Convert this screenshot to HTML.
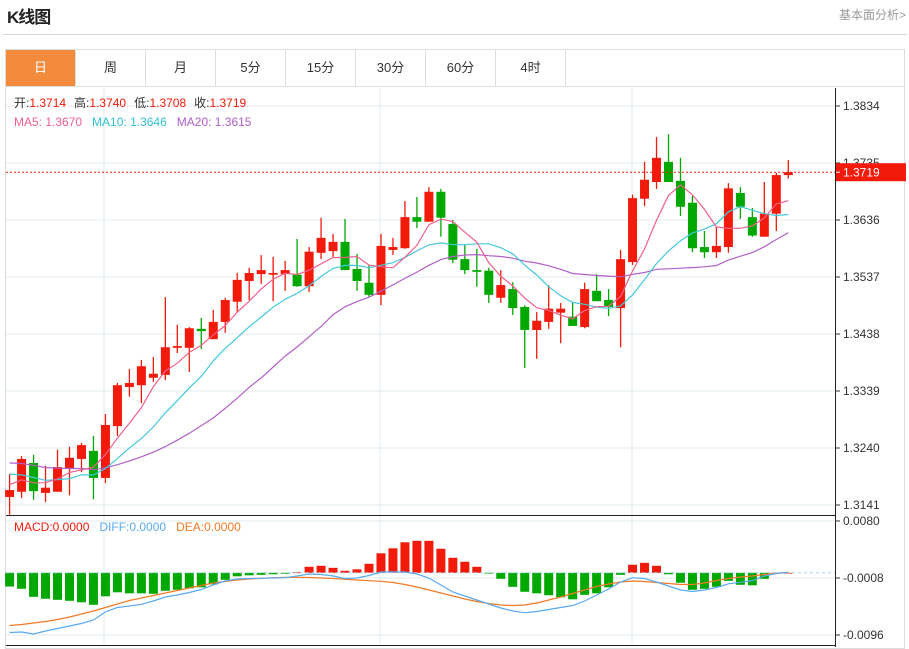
<!DOCTYPE html>
<html><head><meta charset="utf-8">
<style>
html,body{margin:0;padding:0;background:#fff;}
body{width:909px;height:647px;overflow:hidden;position:relative;font-family:"Liberation Sans","Noto Sans CJK SC",sans-serif;}
#title{position:absolute;left:7px;top:3px;font-size:17px;font-weight:bold;color:#222;letter-spacing:-1px;}
#more{position:absolute;right:3px;top:6px;font-size:12px;color:#999;}
#hr{position:absolute;left:3px;top:34px;width:904px;height:1px;background:#d6d6d6;}
#frame{position:absolute;left:5px;top:49px;width:900px;height:600px;border:1px solid #ddd;box-sizing:border-box;}
#tabs{position:absolute;left:6px;top:50px;height:36px;width:899px;border-bottom:1px solid #ddd;display:flex;}
.tab{width:69px;height:36px;border-right:1px solid #ddd;line-height:36px;text-align:center;font-size:13px;color:#333;}
.tab.on{background:#f28c3c;color:#fff;}
svg{position:absolute;left:0;top:0;}
</style></head>
<body>
<div id="title">K线图</div>
<div id="more">基本面分析&gt;</div>
<div id="hr"></div>
<div id="frame"></div>
<div id="tabs">
<div class="tab on">日</div>
<div class="tab">周</div>
<div class="tab">月</div>
<div class="tab">5分</div>
<div class="tab">15分</div>
<div class="tab">30分</div>
<div class="tab">60分</div>
<div class="tab">4时</div>
</div>
<svg id="chart" width="909" height="647" font-family="Liberation Sans, Noto Sans CJK SC, sans-serif"></svg>
<script>
const priceTicks=["1.3834","1.3735","1.3636","1.3537","1.3438","1.3339","1.3240","1.3141"];
const macdTicks=["0.0080","-0.0008","-0.0096"];
const maLegend=["1.3670","1.3646","1.3615"];
const opens=[1.3155,1.3164,1.3214,1.3162,1.3164,1.3205,1.3221,1.3235,1.3188,1.3278,1.3346,1.3349,1.3362,1.3367,1.3414,1.3414,1.3447,1.3429,1.3459,1.3494,1.3530,1.3542,1.3541,1.3542,1.3541,1.3521,1.3579,1.3582,1.3598,1.3551,1.3527,1.3506,1.3584,1.3587,1.3641,1.3633,1.3685,1.3629,1.3568,1.3549,1.3548,1.3501,1.3516,1.3485,1.3445,1.3459,1.3475,1.3468,1.3450,1.3513,1.3497,1.3483,1.3563,1.3673,1.3702,1.3737,1.3704,1.3666,1.3589,1.3580,1.3589,1.3683,1.3641,1.3607,1.3647,1.3714];
const closes=[1.3167,1.3221,1.3165,1.3171,1.3207,1.3223,1.3245,1.3188,1.3280,1.3349,1.3353,1.3382,1.3369,1.3415,1.3417,1.3448,1.3443,1.3459,1.3497,1.3532,1.3544,1.3549,1.3544,1.3549,1.3521,1.3581,1.3605,1.3598,1.3549,1.3530,1.3506,1.3591,1.3589,1.3641,1.3633,1.3685,1.3640,1.3567,1.3549,1.3546,1.3506,1.3523,1.3483,1.3445,1.3461,1.3482,1.3482,1.3452,1.3516,1.3495,1.3485,1.3568,1.3674,1.3706,1.3744,1.3702,1.3659,1.3587,1.3580,1.3591,1.3691,1.3659,1.3609,1.3647,1.3714,1.3719];
const highs=[1.3195,1.3226,1.3228,1.3209,1.3237,1.3242,1.3249,1.3261,1.3299,1.3353,1.3377,1.3393,1.3398,1.3502,1.3454,1.3450,1.3466,1.3480,1.3501,1.3544,1.3553,1.3575,1.3572,1.3565,1.3603,1.3589,1.3640,1.3612,1.3638,1.3577,1.3558,1.3612,1.3605,1.3669,1.3676,1.3693,1.3690,1.3636,1.3593,1.3586,1.3553,1.3549,1.3528,1.3488,1.3476,1.3523,1.3492,1.3492,1.3527,1.3542,1.3516,1.3584,1.3680,1.3737,1.3780,1.3785,1.3744,1.3678,1.3617,1.3624,1.3700,1.3693,1.3657,1.3702,1.3718,1.3740];
const lows=[1.3124,1.3153,1.3150,1.3146,1.3164,1.3158,1.3198,1.3151,1.3179,1.3261,1.3329,1.3318,1.3355,1.3358,1.3405,1.3372,1.3412,1.3429,1.3440,1.3476,1.3497,1.3525,1.3495,1.3513,1.3520,1.3511,1.3568,1.3572,1.3549,1.3513,1.3502,1.3488,1.3575,1.3586,1.3622,1.3633,1.3607,1.3561,1.3542,1.3520,1.3492,1.3492,1.3471,1.3379,1.3395,1.3447,1.3422,1.3452,1.3448,1.3495,1.3469,1.3415,1.3558,1.3660,1.3690,1.3702,1.3643,1.3580,1.3570,1.3570,1.3579,1.3638,1.3607,1.3607,1.3617,1.3708];
const priorCloses=[1.3240,1.3230,1.3250,1.3225,1.3235,1.3245,1.3230,1.3215,1.3240,1.3225,1.3235,1.3210,1.3220,1.3195,1.3205,1.3180,1.3190,1.3170,1.3175];
/* MACD values in units of 1e-4 */
const histE4=[-21.2,-24.7,-37.1,-40.1,-41.7,-43.2,-45.5,-49.4,-36.3,-30.1,-31.7,-31.7,-32.4,-27.8,-26.2,-23.9,-22.4,-17.8,-10.8,-5.4,-3.9,-3.1,-2.3,-1.5,0.8,9.3,10.8,7.7,3.1,5.4,13.9,30.1,37.8,47.1,49.4,49.4,37.1,23.2,17.0,9.3,-0.8,-9.3,-21.6,-29.3,-31.7,-34.7,-37.8,-40.9,-34.0,-31.7,-22.4,-3.1,12.4,15.4,10.8,-2.3,-15.4,-26.2,-24.7,-21.6,-12.4,-18.5,-19.3,-9.3,0,0];
const diffE4=[-92.2,-91.4,-94.5,-89.9,-86.0,-82.1,-78.3,-72.9,-60.5,-53.6,-51.3,-48.6,-43.5,-37.4,-34.3,-30.4,-25.8,-18.8,-12.7,-9.6,-8.8,-8.5,-8.0,-7.6,-4.9,-1.9,-2.6,-4.9,-8.8,-8.0,-4.2,1.2,1.5,1.2,-1.9,-8.0,-18.8,-29.6,-35.8,-42.0,-48.2,-54.3,-59.0,-61.6,-59.8,-56.7,-53.6,-50.5,-43.5,-34.3,-25.0,-14.2,-7.6,-8.8,-14.2,-20.4,-26.6,-28.9,-26.6,-22.7,-17.0,-14.7,-11.9,-4.9,-1.1,0.8];
const deaE4=[-81.4,-79.8,-77.5,-75.2,-72.1,-68.2,-63.6,-59.0,-53.6,-48.2,-42.8,-38.9,-35.0,-31.2,-27.3,-23.5,-19.6,-15.7,-13.4,-11.1,-9.6,-8.5,-7.6,-6.9,-6.9,-7.3,-8.0,-8.8,-10.0,-11.1,-12.2,-13.1,-15.0,-18.1,-21.9,-26.6,-31.2,-35.8,-40.5,-44.3,-47.4,-49.7,-50.5,-49.7,-46.6,-42.0,-37.4,-32.0,-26.6,-21.2,-17.3,-14.2,-12.7,-13.4,-15.0,-16.5,-18.1,-18.1,-15.7,-11.9,-8.8,-6.5,-4.9,-2.6,-0.6,0.8];

const NS="http://www.w3.org/2000/svg";
const svg=document.getElementById('chart');
const RED="#f21a0a",GREEN="#00a800";
const X0=9.6,STEP=11.98,BW=9;
function xAt(i){return X0+i*STEP;}
function yP(p){return 106+(1.3834-p)/0.0099*57;}
function yM(v){return 572.8-v/0.0088*57;}
function mk(tag,attrs,parent){const e=document.createElementNS(NS,tag);for(const k in attrs)e.setAttribute(k,attrs[k]);(parent||svg).appendChild(e);return e;}

const grid=mk('g',{});


priceTicks.forEach(t=>{const y=yP(parseFloat(t));mk('line',{x1:6,x2:835,y1:y,y2:y,stroke:"#e2ebf2","stroke-width":1},grid);});
macdTicks.forEach(t=>{const y=yM(parseFloat(t));mk('line',{x1:6,x2:835,y1:y,y2:y,stroke:"#e2ebf2","stroke-width":1},grid);});
[104,380,632].forEach(x=>{mk('line',{x1:x,x2:x,y1:88,y2:645,stroke:"#e2ebf2","stroke-width":1},grid);});

const allC=priorCloses.concat(closes);
function ma(n){const out=[];for(let i=0;i<closes.length;i++){const j=i+priorCloses.length;let s=0,c=0;for(let k=Math.max(0,j-n+1);k<=j;k++){s+=allC[k];c++;}out.push(s/c);}return out;}
function line(vals,fy,color,name){const p=mk('polyline',{points:vals.map((v,i)=>xAt(i).toFixed(1)+','+fy(v).toFixed(1)).join(' '),fill:"none",stroke:color,"stroke-width":1.2});

}

const cg=mk('g',{});


closes.forEach((c,i)=>{const o=opens[i],up=c>=o,col=up?RED:GREEN,x=xAt(i);
const g=mk('g',{},cg);


mk('line',{x1:x,x2:x,y1:yP(highs[i]),y2:yP(lows[i]),stroke:col,"stroke-width":1.3},g);
const t=yP(Math.max(o,c)),b=yP(Math.min(o,c));
mk('rect',{x:x-BW/2,y:t,width:BW,height:Math.max(1.5,b-t),fill:col},g);});
line(ma(20),yP,"#b260c8","ma20-line");
line(ma(10),yP,"#44c8dc","ma10-line");
line(ma(5),yP,"#f0608c","ma5-line");

const lastY=yP(closes[closes.length-1]);
const lp=mk('line',{x1:6,x2:835,y1:lastY,y2:lastY,stroke:RED,"stroke-width":1,"stroke-dasharray":"2,2"});



const zeroY=yM(0);
const hg=mk('g',{});


histE4.forEach((h,i)=>{const v=h/10000,y=yM(v),x=xAt(i);
const r=mk('rect',{x:x-BW/2,y:Math.min(y,zeroY),width:BW,height:Math.max(0.8,Math.abs(y-zeroY)),fill:h>=0?RED:GREEN},hg);

});
const zl=mk('line',{x1:6,x2:835,y1:zeroY,y2:zeroY,stroke:"#a8d8ee","stroke-width":1,"stroke-dasharray":"3,3"});


line(deaE4.map(v=>v/10000),yM,"#f27a24","dea-line");
line(diffE4.map(v=>v/10000),yM,"#5aaaf0","diff-line");

mk('line',{x1:6,x2:835,y1:515.5,y2:515.5,stroke:"#222","stroke-width":1});
mk('line',{x1:6,x2:835,y1:645.5,y2:645.5,stroke:"#222","stroke-width":1});
mk('line',{x1:835.5,x2:835.5,y1:88,y2:647,stroke:"#222","stroke-width":1});
const ax=mk('g',{"font-size":12,fill:"#333"});


priceTicks.forEach(t=>{const y=yP(parseFloat(t));mk('line',{x1:835,x2:840,y1:y,y2:y,stroke:"#333"},ax);const tx=mk('text',{x:843,y:y+4},ax);tx.textContent=t;});
macdTicks.forEach(t=>{const y=yM(parseFloat(t));mk('line',{x1:835,x2:840,y1:y,y2:y,stroke:"#333"},ax);const tx=mk('text',{x:843,y:y+4},ax);tx.textContent=t;});
const lb=mk('g',{});


mk('rect',{x:836,y:lastY-9,width:70,height:18,fill:RED},lb);
mk('line',{x1:836,x2:840,y1:lastY,y2:lastY,stroke:"#fff"},lb);
const lt=mk('text',{x:843,y:lastY+4.5,"font-size":12,fill:"#fff"},lb);lt.textContent=closes[closes.length-1].toFixed(4);

function legend(y,items,name){const t=mk('text',{x:14,y:y,"font-size":12});


items.forEach(([s,c,dx])=>{const sp=mk('tspan',{fill:c},t);if(dx)sp.setAttribute('dx',dx);sp.textContent=s;});}
const n=closes.length-1;
legend(107,[["开:","#333"],[opens[n].toFixed(4),RED],["高:","#333",8],[highs[n].toFixed(4),RED],["低:","#333",8],[lows[n].toFixed(4),RED],["收:","#333",8],[closes[n].toFixed(4),RED]],"ohlc-legend");
legend(126,[["MA5: "+maLegend[0],"#f0608c"],["MA10: "+maLegend[1],"#30c0d8",10],["MA20: "+maLegend[2],"#b060c8",10]],"ma-legend");
legend(531,[["MACD:0.0000",RED],["DIFF:0.0000","#5aaaf0",10],["DEA:0.0000","#f27a24",10]],"macd-legend");
</script>
</body></html>
